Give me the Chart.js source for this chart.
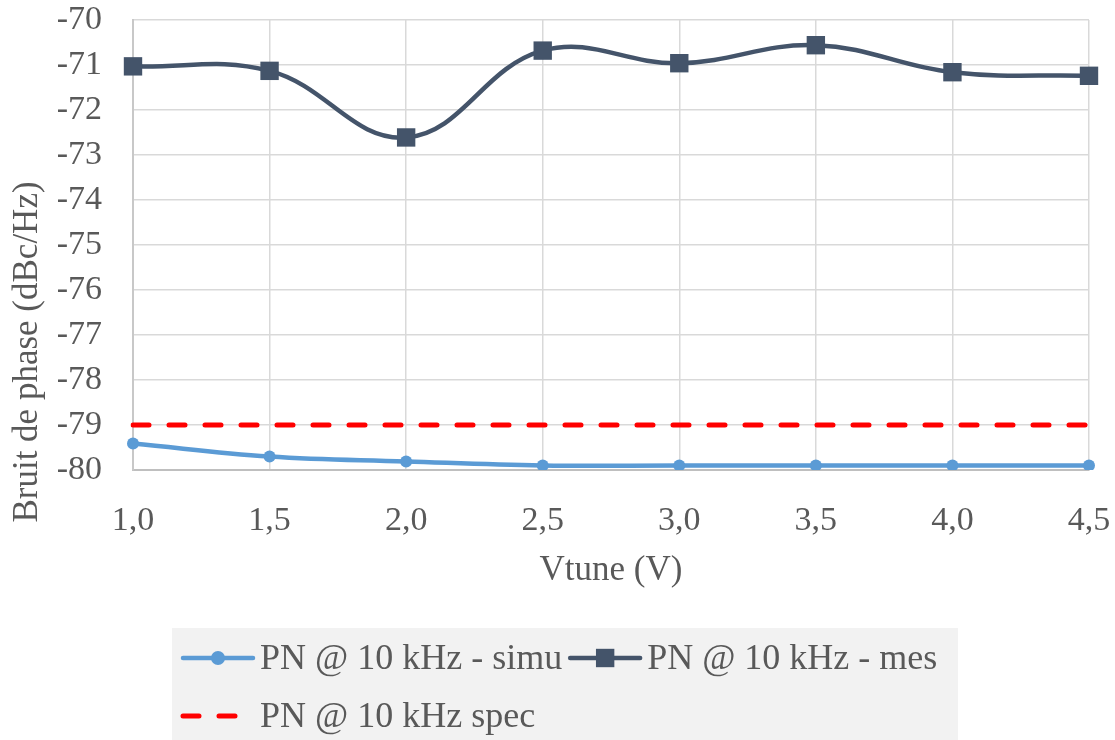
<!DOCTYPE html>
<html lang="fr">
<head>
  <meta charset="UTF-8">
  <title>Bruit de phase vs Vtune</title>
  <script src="https://cdn.jsdelivr.net/npm/chart.js"></script>
  <style>
    body { margin: 0; background: #fff; }
  </style>
</head>
<body>
  <canvas id="pnChart" width="1115" height="740"></canvas>

  <script>
    // Vtune (V) categories
    const vtuneLabels = ['1,0', '1,5', '2,0', '2,5', '3,0', '3,5', '4,0', '4,5'];

    // phase noise @ 10 kHz (dBc/Hz)
    const pnSimu = [-79.41, -79.70, -79.81, -79.90, -79.90, -79.90, -79.90, -79.90];
    const pnMes = [-71.03, -71.13, -72.61, -70.68, -70.96, -70.56, -71.16, -71.24];
    const pnSpec = [-79, -79, -79, -79, -79, -79, -79, -79];

    const yTicks = [-70, -71, -72, -73, -74, -75, -76, -77, -78, -79, -80];

    const FONT = "'Liberation Serif', 'Times New Roman', serif";
    const TXT = '#595959';

    // y title sits lower than the axis centre in the original, so draw it by hand
    const yTitlePlugin = {
      id: 'yTitle',
      afterDraw(chart) {
        const ctx = chart.ctx;
        ctx.save();
        ctx.translate(28, 352);
        ctx.rotate(-Math.PI / 2);
        ctx.font = '35px ' + FONT;
        ctx.fillStyle = TXT;
        ctx.textAlign = 'center';
        ctx.textBaseline = 'middle';
        ctx.fillText('Bruit de phase (dBc/Hz)', 0, 0);
        ctx.restore();
      }
    };

    // Excel style legend: grey box, line + marker icons
    const boxLegendPlugin = {
      id: 'boxLegend',
      afterDraw(chart) {
        const ctx = chart.ctx;
        const box = { x: 172, y: 628, w: 786, h: 112 };
        const rows = [658, 716];
        ctx.save();
        ctx.fillStyle = '#f2f2f2';
        ctx.fillRect(box.x, box.y, box.w, box.h);
        ctx.font = '36px ' + FONT;
        ctx.textBaseline = 'middle';

        let x = 183, row = 0;
        chart.data.datasets.forEach(ds => {
          const tw = ctx.measureText(ds.label).width;
          const itemW = 70 + 7 + tw;
          if (x + itemW > box.x + box.w) { row++; x = 183; }
          const y = rows[row];

          ctx.save();
          ctx.strokeStyle = ds.borderColor;
          ctx.lineWidth = ds.borderWidth;
          ctx.lineCap = 'round';
          ctx.setLineDash(ds.borderDash || []);
          ctx.beginPath();
          ctx.moveTo(x, y);
          ctx.lineTo(x + 70, y);
          ctx.stroke();
          ctx.restore();

          if (ds.pointRadius > 0) {
            ctx.fillStyle = ds.backgroundColor;
            ctx.strokeStyle = ds.borderColor;
            Chart.helpers.drawPoint(ctx, {
              pointStyle: ds.pointStyle,
              radius: ds.pointStyle === 'circle' ? ds.pointRadius + 1 : ds.pointRadius,
              borderWidth: 0,
              rotation: 0
            }, x + 35, y);
          }

          ctx.fillStyle = TXT;
          ctx.textAlign = 'left';
          ctx.fillText(ds.label, x + 77, y + 2);
          x += itemW + 8;
        });
        ctx.restore();
      }
    };

    const ctx = document.getElementById('pnChart').getContext('2d');
    new Chart(ctx, {
      type: 'line',
      data: {
        labels: vtuneLabels,
        datasets: [
          {
            label: 'PN @ 10 kHz - simu',
            data: pnSimu,
            borderColor: '#5b9bd5',
            backgroundColor: '#5b9bd5',
            borderWidth: 4.5,
            pointStyle: 'circle',
            pointRadius: 6,
            pointBorderWidth: 0,
            tension: 0.4
          },
          {
            label: 'PN @ 10 kHz - mes',
            data: pnMes,
            borderColor: '#44546a',
            backgroundColor: '#44546a',
            borderWidth: 4.5,
            pointStyle: 'rect',
            pointRadius: 13,
            pointBorderWidth: 0,
            tension: 0.4
          },
          {
            label: 'PN @ 10 kHz spec',
            data: pnSpec,
            borderColor: '#ff0000',
            backgroundColor: '#ff0000',
            borderWidth: 5,
            borderDash: [16, 20],
            borderCapStyle: 'round',
            pointRadius: 0,
            tension: 0
          }
        ]
      },
      options: {
        responsive: false,
        animation: false,
        layout: { autoPadding: false, padding: { top: 0, right: 26, bottom: 148, left: 0 } },
        plugins: {
          legend: { display: false },
          tooltip: { enabled: false }
        },
        scales: {
          x: {
            type: 'category',
            offset: false,
            // invisible tick marks push the labels down without adding side padding
            grid: { color: '#d9d9d9', lineWidth: 1.5, drawTicks: true, tickLength: 29, tickColor: 'rgba(0,0,0,0)', offset: false },
            border: { color: '#bfbfbf', width: 2 },
            ticks: { color: TXT, font: { family: FONT, size: 34 }, padding: 2, maxRotation: 0, autoSkip: false },
            title: { display: true, text: 'Vtune (V)', color: TXT, font: { family: FONT, size: 35 }, padding: { top: 4, bottom: 0 } },
            afterFit(scale) { scale.height = 122; }
          },
          y: {
            min: -80,
            max: -70,
            afterBuildTicks(scale) { scale.ticks = yTicks.map(v => ({ value: v })); },
            grid: { color: '#d9d9d9', lineWidth: 1.5, drawTicks: true, tickLength: 28, tickColor: 'rgba(0,0,0,0)' },
            border: { color: '#c8c8c8', width: 2 },
            ticks: { color: TXT, font: { family: FONT, size: 34, lineHeight: 1.0 }, padding: 3, autoSkip: false },
            afterFit(scale) { scale.width = 133; }
          }
        }
      },
      plugins: [yTitlePlugin, boxLegendPlugin]
    });
  </script>
</body>
</html>
